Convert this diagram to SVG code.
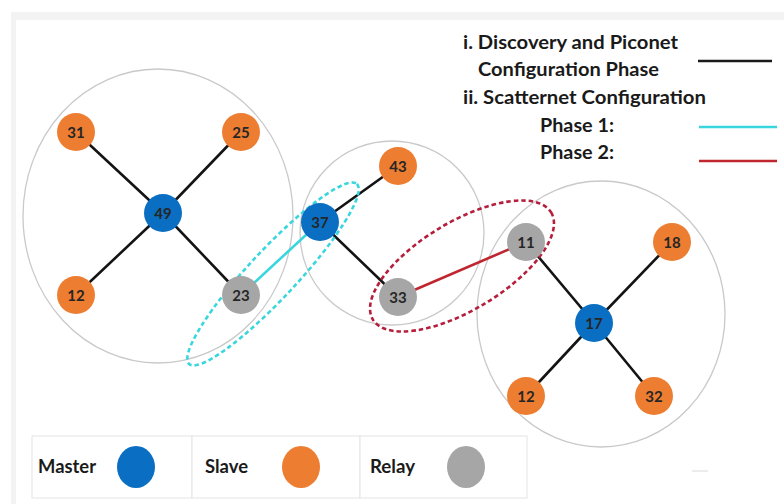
<svg xmlns="http://www.w3.org/2000/svg" width="784" height="504" viewBox="0 0 784 504">
<style>
.bg{fill:#ffffff}
.band{fill:#f3f3f3}
.net{fill:none;stroke:#c9c9c9;stroke-width:1.3}
.edge{stroke:#141414;stroke-width:2.6;stroke-linecap:round}
.p1{stroke:#3ad6de;stroke-width:2.6;stroke-linecap:round}
.p2{stroke:#c0262f;stroke-width:2.6;stroke-linecap:round}
.d1{fill:none;stroke:#3ad6de;stroke-width:2.6;stroke-dasharray:4.5 3}
.d2{fill:none;stroke:#b51f3c;stroke-width:2.6;stroke-dasharray:4.5 3}
.m{fill:#0a6fc2}
.s{fill:#ed7d31}
.r{fill:#a6a6a6}
.n{font-family:Lato,"Liberation Sans",sans-serif;font-weight:bold;font-size:15px;fill:#262626;text-anchor:middle;dominant-baseline:central}
.lg{font-family:Lato,"Liberation Sans",sans-serif;font-weight:bold;font-size:18px;fill:#1a1a1a}
.cell{fill:#ffffff;stroke:#e4e4e4;stroke-width:1}
</style>
<rect class="bg" x="0" y="0" width="784" height="504"/>
<rect class="band" x="11" y="12" width="773" height="8"/>
<rect class="band" x="11" y="12" width="5" height="492"/>

<g id="piconets">
<ellipse class="net" cx="158" cy="216" rx="135" ry="147"/>
<ellipse class="net" cx="392" cy="233" rx="92" ry="92"/>
<ellipse class="net" cx="601" cy="314" rx="124" ry="133"/>
</g>

<g id="connectors">
<line class="edge" x1="163" y1="213" x2="76" y2="132"/>
<line class="edge" x1="163" y1="213" x2="241" y2="132"/>
<line class="edge" x1="163" y1="213" x2="76" y2="295"/>
<line class="edge" x1="163" y1="213" x2="241" y2="295"/>
<line class="edge" x1="320" y1="222" x2="398" y2="166"/>
<line class="edge" x1="320" y1="222" x2="398" y2="297"/>
<line class="edge" x1="594" y1="323" x2="526" y2="242"/>
<line class="edge" x1="594" y1="323" x2="672" y2="242"/>
<line class="edge" x1="594" y1="323" x2="526" y2="396"/>
<line class="edge" x1="594" y1="323" x2="654" y2="396"/>
<line class="p1" x1="241" y1="295" x2="320" y2="222"/>
<line class="p2" x1="398" y1="297" x2="526" y2="242"/>
<ellipse class="d1" cx="273" cy="274" rx="123" ry="24" transform="rotate(-47 273 274)"/>
<ellipse class="d2" cx="462" cy="266" rx="104" ry="44" transform="rotate(-31 462 266)"/>
</g>

<g id="n49"><circle class="m" cx="163" cy="213" r="19"/><text class="n" x="163" y="213">49</text></g>
<g id="n31"><circle class="s" cx="76" cy="132" r="19"/><text class="n" x="76" y="132">31</text></g>
<g id="n25"><circle class="s" cx="241" cy="132" r="19"/><text class="n" x="241" y="132">25</text></g>
<g id="n12a"><circle class="s" cx="76" cy="295" r="19"/><text class="n" x="76" y="295">12</text></g>
<g id="n23"><circle class="r" cx="241" cy="295" r="19"/><text class="n" x="241" y="295">23</text></g>
<g id="n37"><circle class="m" cx="320" cy="222" r="19"/><text class="n" x="320" y="222">37</text></g>
<g id="n43"><circle class="s" cx="398" cy="166" r="19"/><text class="n" x="398" y="166">43</text></g>
<g id="n33"><circle class="r" cx="398" cy="297" r="19"/><text class="n" x="398" y="297">33</text></g>
<g id="n11"><circle class="r" cx="526" cy="242" r="19"/><text class="n" x="526" y="242">11</text></g>
<g id="n18"><circle class="s" cx="672" cy="242" r="19"/><text class="n" x="672" y="242">18</text></g>
<g id="n17"><circle class="m" cx="594" cy="323" r="19"/><text class="n" x="594" y="323">17</text></g>
<g id="n12b"><circle class="s" cx="526" cy="396" r="19"/><text class="n" x="526" y="396">12</text></g>
<g id="n32"><circle class="s" cx="654" cy="396" r="19"/><text class="n" x="654" y="396">32</text></g>

<g id="phase-legend">
<text class="lg" x="463" y="49" textLength="215" lengthAdjust="spacingAndGlyphs">i. Discovery and Piconet</text>
<text class="lg" x="478" y="76" textLength="181" lengthAdjust="spacingAndGlyphs">Configuration Phase</text>
<text class="lg" x="463" y="104" textLength="243" lengthAdjust="spacingAndGlyphs">ii. Scatternet Configuration</text>
<text class="lg" x="540" y="132" textLength="74" lengthAdjust="spacingAndGlyphs">Phase 1:</text>
<text class="lg" x="540" y="159" textLength="74" lengthAdjust="spacingAndGlyphs">Phase 2:</text>
<line x1="698" y1="61" x2="772" y2="61" stroke="#1a1a1a" stroke-width="2.6"/>
<line x1="699" y1="127" x2="777" y2="127" stroke="#3ad6de" stroke-width="2.6"/>
<line x1="699" y1="161" x2="777" y2="161" stroke="#c0262f" stroke-width="2.6"/>
</g>

<g id="node-legend">
<rect class="cell" x="32" y="436" width="160" height="62"/>
<rect class="cell" x="192" y="436" width="168" height="62"/>
<rect class="cell" x="360" y="436" width="167" height="62"/>
<text class="lg" x="38" y="473" textLength="58" lengthAdjust="spacingAndGlyphs">Master</text>
<ellipse class="m" cx="136" cy="467" rx="19" ry="21"/>
<text class="lg" x="205" y="473" textLength="43" lengthAdjust="spacingAndGlyphs">Slave</text>
<ellipse class="s" cx="301" cy="467" rx="19" ry="21"/>
<text class="lg" x="370" y="473" textLength="45" lengthAdjust="spacingAndGlyphs">Relay</text>
<ellipse class="r" cx="466" cy="467" rx="19" ry="21"/>
</g>
<line x1="692" y1="471" x2="708" y2="471" stroke="#ececec" stroke-width="2"/>
</svg>
